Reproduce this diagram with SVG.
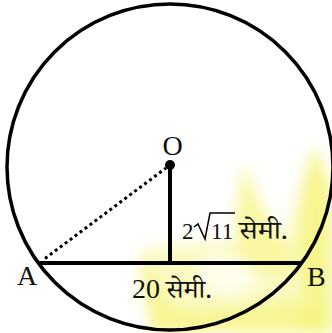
<svg xmlns="http://www.w3.org/2000/svg" width="332" height="333" viewBox="0 0 332 333">
<defs>
<filter id="blur" x="-30%" y="-30%" width="160%" height="160%"><feGaussianBlur stdDeviation="7"/></filter>
<style>
.lbl{font-family:"Liberation Serif",serif;font-size:28px;fill:#111}
.sm{font-family:"Liberation Serif",serif;font-size:23px;fill:#111}
.hin{font-family:"Noto Serif Devanagari","Noto Sans Devanagari","Liberation Serif",serif;font-size:25px;fill:#111}
.thick{stroke:#000;stroke-width:4;fill:none}
</style>
</defs>
<rect width="332" height="333" fill="#fff"/>
<g id="watermark" filter="url(#blur)">
<path fill="#f9f7a8" opacity="0.7" d="M140 250 C 170 245 220 242 238 240 C 234 215 238 185 245 163 C 255 190 268 220 285 240 C 294 205 302 170 315 145 C 325 170 332 185 332 200 L 332 333 L 150 333 C 147 300 140 280 140 250 Z"/>
<path fill="#f5f270" opacity="0.65" d="M315 148 C 325 170 332 185 332 200 L 332 333 L 300 333 C 306 300 296 260 300 230 C 302 200 306 175 315 148 Z"/>
<path fill="#f5f270" opacity="0.4" d="M245 168 C 252 190 262 215 280 235 C 295 250 300 260 290 275 L 250 270 C 240 255 232 235 236 210 C 238 190 240 180 245 168 Z"/>
<path fill="#f5f270" opacity="0.55" d="M142 254 C 152 270 160 290 170 305 C 200 315 250 305 290 300 C 310 305 325 318 332 333 L 152 333 C 146 300 140 280 142 254 Z"/>
<path fill="#ffffff" opacity="0.7" d="M205 258 C 220 252 250 262 258 280 C 250 295 220 298 205 288 C 198 278 198 265 205 258 Z"/>
</g>
<g id="circle"><circle cx="170" cy="167" r="163" stroke="#000" stroke-width="3.5" fill="none"/></g>
<g id="connectors">
<line id="AB" x1="38" y1="263" x2="302" y2="263" class="thick"/>
<line id="OM" x1="170" y1="165" x2="170" y2="263" class="thick"/>
<line id="OA" x1="45" y1="258.5" x2="166" y2="168" stroke="#000" stroke-width="3" stroke-dasharray="3 3.2"/>
</g>
<g id="O"><circle cx="170" cy="165" r="5" fill="#000"/><text class="lbl" x="172.5" y="155" text-anchor="middle">O</text></g>
<g id="A"><text class="lbl" x="17" y="285">A</text></g>
<g id="B"><text class="lbl" x="307" y="286">B</text></g>
<g id="label-OM">
<text class="sm" x="182" y="239">2</text>
<path d="M194 227 L198 224 L205 239 L210 213 L235 213" stroke="#000" stroke-width="1.5" fill="none"/>
<text class="sm" x="211" y="239">11</text>
<text class="hin" x="239" y="239" textLength="49" lengthAdjust="spacingAndGlyphs">सेमी.</text>
</g>
<g id="label-AB">
<text class="lbl" x="132" y="298">20</text>
<text class="hin" x="166" y="298" textLength="46" lengthAdjust="spacingAndGlyphs">सेमी.</text>
</g>
</svg>
